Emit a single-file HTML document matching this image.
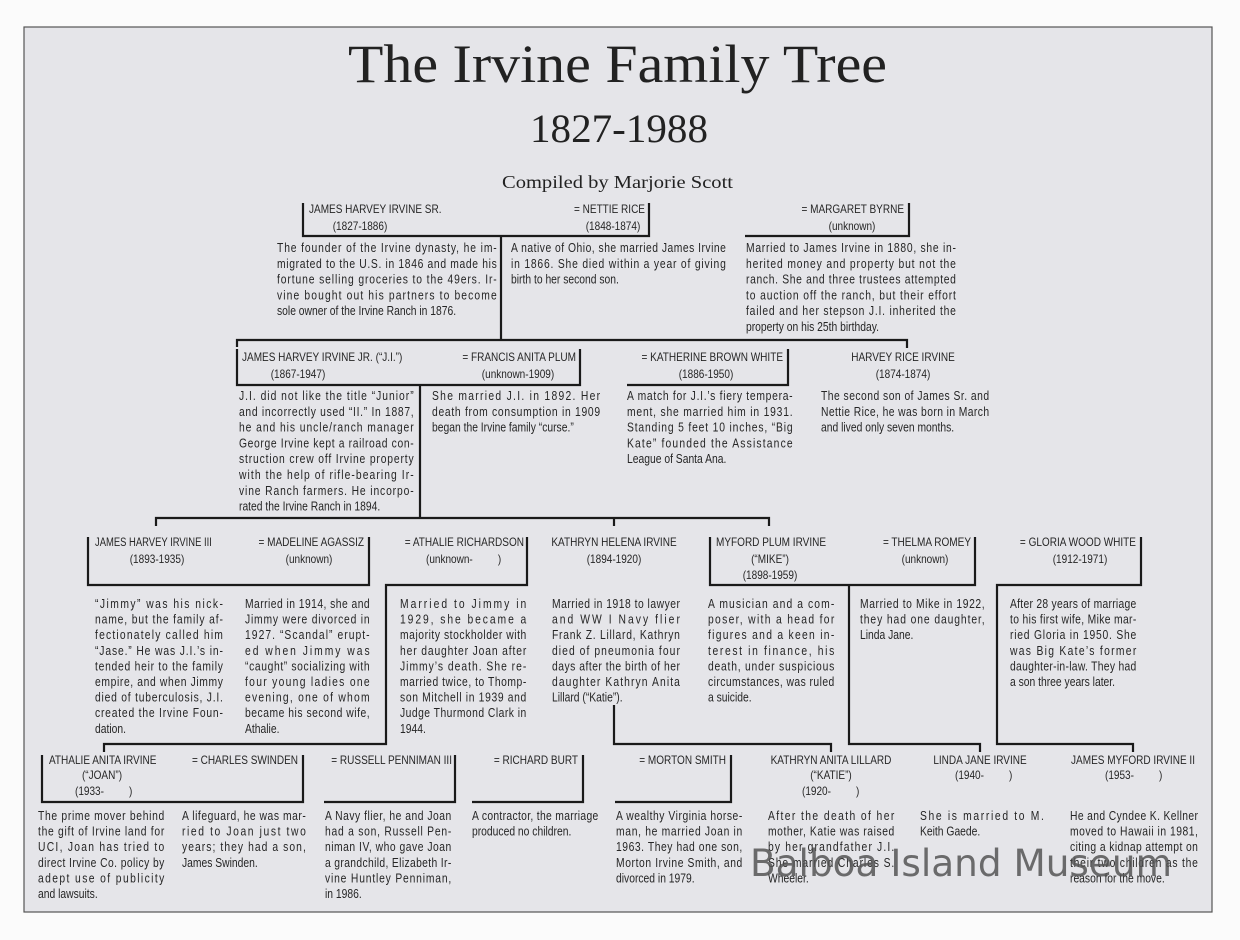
<!DOCTYPE html>
<html><head><meta charset="utf-8"><style>
html,body{margin:0;padding:0;background:#fbfbfb;}
svg{display:block;}
.b{font-family:"Liberation Sans",Arial,sans-serif;font-size:12.6px;fill:#262626;}
.h{font-family:"Liberation Sans",Arial,sans-serif;font-size:11.8px;fill:#262626;}
.s{font-family:"Liberation Serif","Times New Roman",serif;fill:#222;}
</style></head><body>
<svg width="1240" height="940" viewBox="0 0 1240 940" xmlns="http://www.w3.org/2000/svg">
<rect x="0" y="0" width="1240" height="940" fill="#fbfbfb"/>
<rect x="24" y="27" width="1188" height="885" fill="#e5e5e9" stroke="#555" stroke-width="1.2"/>

<text class="s" x="348" y="82" font-size="54" textLength="539" lengthAdjust="spacingAndGlyphs">The Irvine Family Tree</text>
<text class="s" x="530" y="142" font-size="40" textLength="178" lengthAdjust="spacingAndGlyphs">1827-1988</text>
<text class="s" x="502" y="188" font-size="18" textLength="231" lengthAdjust="spacingAndGlyphs">Compiled by Marjorie Scott</text>

<g stroke="#1a1a1a" stroke-width="2.2" fill="none">
<polyline points="303,203 303,236 649,236 649,203"/>
<polyline points="745,236 909,236 909,203"/>
<line x1="501" y1="236" x2="501" y2="340"/>
<polyline points="237,347 237,340 907,340 907,348"/>
<polyline points="237,349 237,385 580,385 580,349"/>
<polyline points="627,385 788,385 788,349"/>
<line x1="420" y1="385" x2="420" y2="518"/>
<polyline points="156,526 156,518 769,518 769,526"/>
<line x1="614" y1="518" x2="614" y2="526"/>
<polyline points="88,537 88,585 369,585 369,537"/>
<polyline points="527,537 527,585 386,585 386,744 104,744 104,752"/>
<polyline points="614,705 614,744 831,744 831,752"/>
<polyline points="710,537 710,585 975,585 975,537"/>
<polyline points="849,585 849,744 980,744 980,752"/>
<polyline points="1141,537 1141,585 997,585 997,744 1133,744 1133,752"/>
<polyline points="42,755 42,802 303,802 303,755"/>
<polyline points="324,802 455,802 455,755"/>
<polyline points="472,802 583,802 583,755"/>
<polyline points="615,802 731,802 731,755"/>
</g>

<g class="h">
<text transform="translate(309,213) scale(.85,1)">JAMES HARVEY IRVINE SR.</text>
<text transform="translate(360,230) scale(.85,1)" text-anchor="middle">(1827-1886)</text>
<text transform="translate(645,213) scale(.85,1)" text-anchor="end">= NETTIE RICE</text>
<text transform="translate(613,230) scale(.85,1)" text-anchor="middle">(1848-1874)</text>
<text transform="translate(904,213) scale(.85,1)" text-anchor="end">= MARGARET BYRNE</text>
<text transform="translate(852,230) scale(.85,1)" text-anchor="middle">(unknown)</text>

<text transform="translate(242,361) scale(.85,1)">JAMES HARVEY IRVINE JR. (“J.I.”)</text>
<text transform="translate(298,378) scale(.85,1)" text-anchor="middle">(1867-1947)</text>
<text transform="translate(576,361) scale(.85,1)" text-anchor="end">= FRANCIS ANITA PLUM</text>
<text transform="translate(518,378) scale(.85,1)" text-anchor="middle">(unknown-1909)</text>
<text transform="translate(783,361) scale(.85,1)" text-anchor="end">= KATHERINE BROWN WHITE</text>
<text transform="translate(706,378) scale(.85,1)" text-anchor="middle">(1886-1950)</text>
<text transform="translate(903,361) scale(.85,1)" text-anchor="middle">HARVEY RICE IRVINE</text>
<text transform="translate(903,378) scale(.85,1)" text-anchor="middle">(1874-1874)</text>

<text transform="translate(95,546) scale(.8,1)">JAMES HARVEY IRVINE III</text>
<text transform="translate(157,563) scale(.85,1)" text-anchor="middle">(1893-1935)</text>
<text transform="translate(364,546) scale(.85,1)" text-anchor="end">= MADELINE AGASSIZ</text>
<text transform="translate(309,563) scale(.85,1)" text-anchor="middle">(unknown)</text>
<text transform="translate(524,546) scale(.85,1)" text-anchor="end">= ATHALIE RICHARDSON</text>
<text transform="translate(426,563) scale(.85,1)">(unknown-&#160;&#160;&#160;&#160;&#160;&#160;&#160;&#160;&#160;)</text>
<text transform="translate(614,546) scale(.85,1)" text-anchor="middle">KATHRYN HELENA IRVINE</text>
<text transform="translate(614,563) scale(.85,1)" text-anchor="middle">(1894-1920)</text>
<text transform="translate(716,546) scale(.85,1)">MYFORD PLUM IRVINE</text>
<text transform="translate(770,563) scale(.85,1)" text-anchor="middle">(“MIKE”)</text>
<text transform="translate(770,579) scale(.85,1)" text-anchor="middle">(1898-1959)</text>
<text transform="translate(971,546) scale(.85,1)" text-anchor="end">= THELMA ROMEY</text>
<text transform="translate(925,563) scale(.85,1)" text-anchor="middle">(unknown)</text>
<text transform="translate(1136,546) scale(.85,1)" text-anchor="end">= GLORIA WOOD WHITE</text>
<text transform="translate(1080,563) scale(.85,1)" text-anchor="middle">(1912-1971)</text>

<text transform="translate(49,764) scale(.85,1)">ATHALIE ANITA IRVINE</text>
<text transform="translate(102,779) scale(.85,1)" text-anchor="middle">(“JOAN”)</text>
<text transform="translate(75,795) scale(.85,1)">(1933-&#160;&#160;&#160;&#160;&#160;&#160;&#160;&#160;&#160;)</text>
<text transform="translate(298,764) scale(.85,1)" text-anchor="end">= CHARLES SWINDEN</text>
<text transform="translate(452,764) scale(.85,1)" text-anchor="end">= RUSSELL PENNIMAN III</text>
<text transform="translate(578,764) scale(.85,1)" text-anchor="end">= RICHARD BURT</text>
<text transform="translate(726,764) scale(.85,1)" text-anchor="end">= MORTON SMITH</text>
<text transform="translate(831,764) scale(.85,1)" text-anchor="middle">KATHRYN ANITA LILLARD</text>
<text transform="translate(831,779) scale(.85,1)" text-anchor="middle">(“KATIE”)</text>
<text transform="translate(802,795) scale(.85,1)">(1920-&#160;&#160;&#160;&#160;&#160;&#160;&#160;&#160;&#160;)</text>
<text transform="translate(980,764) scale(.85,1)" text-anchor="middle">LINDA JANE IRVINE</text>
<text transform="translate(955,779) scale(.85,1)">(1940-&#160;&#160;&#160;&#160;&#160;&#160;&#160;&#160;&#160;)</text>
<text transform="translate(1133,764) scale(.85,1)" text-anchor="middle">JAMES MYFORD IRVINE II</text>
<text transform="translate(1105,779) scale(.85,1)">(1953-&#160;&#160;&#160;&#160;&#160;&#160;&#160;&#160;&#160;)</text>
</g>

<g class="b">
<g transform="translate(277,252) scale(.82,1)">
<text y="0" textLength="268" lengthAdjust="spacing">The founder of the Irvine dynasty, he im-</text>
<text y="15.8" textLength="268" lengthAdjust="spacing">migrated to the U.S. in 1846 and made his</text>
<text y="31.6" textLength="268" lengthAdjust="spacing">fortune selling groceries to the 49ers. Ir-</text>
<text y="47.4" textLength="268" lengthAdjust="spacing">vine bought out his partners to become</text>
<text y="63.2">sole owner of the Irvine Ranch in 1876.</text>
</g>
<g transform="translate(511,252) scale(.82,1)">
<text y="0" textLength="262" lengthAdjust="spacing">A native of Ohio, she married James Irvine</text>
<text y="15.8" textLength="262" lengthAdjust="spacing">in 1866. She died within a year of giving</text>
<text y="31.6">birth to her second son.</text>
</g>
<g transform="translate(746,252) scale(.82,1)">
<text y="0" textLength="256" lengthAdjust="spacing">Married to James Irvine in 1880, she in-</text>
<text y="15.8" textLength="256" lengthAdjust="spacing">herited money and property but not the</text>
<text y="31.6" textLength="256" lengthAdjust="spacing">ranch. She and three trustees attempted</text>
<text y="47.4" textLength="256" lengthAdjust="spacing">to auction off the ranch, but their effort</text>
<text y="63.2" textLength="256" lengthAdjust="spacing">failed and her stepson J.I. inherited the</text>
<text y="79">property on his 25th birthday.</text>
</g>

<g transform="translate(239,400) scale(.82,1)">
<text y="0" textLength="213" lengthAdjust="spacing">J.I. did not like the title “Junior”</text>
<text y="15.8" textLength="213" lengthAdjust="spacing">and incorrectly used “II.” In 1887,</text>
<text y="31.6" textLength="213" lengthAdjust="spacing">he and his uncle/ranch manager</text>
<text y="47.4" textLength="213" lengthAdjust="spacing">George Irvine kept a railroad con-</text>
<text y="63.2" textLength="213" lengthAdjust="spacing">struction crew off Irvine property</text>
<text y="79" textLength="213" lengthAdjust="spacing">with the help of rifle-bearing Ir-</text>
<text y="94.8" textLength="213" lengthAdjust="spacing">vine Ranch farmers. He incorpo-</text>
<text y="110.6">rated the Irvine Ranch in 1894.</text>
</g>
<g transform="translate(432,400) scale(.82,1)">
<text y="0" textLength="205" lengthAdjust="spacing">She married J.I. in 1892. Her</text>
<text y="15.8" textLength="205" lengthAdjust="spacing">death from consumption in 1909</text>
<text y="31.6">began the Irvine family “curse.”</text>
</g>
<g transform="translate(627,400) scale(.82,1)">
<text y="0" textLength="202" lengthAdjust="spacing">A match for J.I.’s fiery tempera-</text>
<text y="15.8" textLength="202" lengthAdjust="spacing">ment, she married him in 1931.</text>
<text y="31.6" textLength="202" lengthAdjust="spacing">Standing 5 feet 10 inches, “Big</text>
<text y="47.4" textLength="202" lengthAdjust="spacing">Kate” founded the Assistance</text>
<text y="63.2">League of Santa Ana.</text>
</g>
<g transform="translate(821,400) scale(.82,1)">
<text y="0" textLength="205" lengthAdjust="spacing">The second son of James Sr. and</text>
<text y="15.8" textLength="205" lengthAdjust="spacing">Nettie Rice, he was born in March</text>
<text y="31.6">and lived only seven months.</text>
</g>

<g transform="translate(95,608) scale(.82,1)">
<text y="0" textLength="156" lengthAdjust="spacing">“Jimmy” was his nick-</text>
<text y="15.6" textLength="156" lengthAdjust="spacing">name, but the family af-</text>
<text y="31.2" textLength="156" lengthAdjust="spacing">fectionately called him</text>
<text y="46.8" textLength="156" lengthAdjust="spacing">“Jase.” He was J.I.’s in-</text>
<text y="62.4" textLength="156" lengthAdjust="spacing">tended heir to the family</text>
<text y="78" textLength="156" lengthAdjust="spacing">empire, and when Jimmy</text>
<text y="93.6" textLength="156" lengthAdjust="spacing">died of tuberculosis, J.I.</text>
<text y="109.2" textLength="156" lengthAdjust="spacing">created the Irvine Foun-</text>
<text y="124.8">dation.</text>
</g>
<g transform="translate(245,608) scale(.82,1)">
<text y="0" textLength="152" lengthAdjust="spacing">Married in 1914, she and</text>
<text y="15.6" textLength="152" lengthAdjust="spacing">Jimmy were divorced in</text>
<text y="31.2" textLength="152" lengthAdjust="spacing">1927. “Scandal” erupt-</text>
<text y="46.8" textLength="152" lengthAdjust="spacing">ed when Jimmy was</text>
<text y="62.4" textLength="152" lengthAdjust="spacing">“caught” socializing with</text>
<text y="78" textLength="152" lengthAdjust="spacing">four young ladies one</text>
<text y="93.6" textLength="152" lengthAdjust="spacing">evening, one of whom</text>
<text y="109.2" textLength="152" lengthAdjust="spacing">became his second wife,</text>
<text y="124.8">Athalie.</text>
</g>
<g transform="translate(400,608) scale(.82,1)">
<text y="0" textLength="154" lengthAdjust="spacing">Married to Jimmy in</text>
<text y="15.6" textLength="154" lengthAdjust="spacing">1929, she became a</text>
<text y="31.2" textLength="154" lengthAdjust="spacing">majority stockholder with</text>
<text y="46.8" textLength="154" lengthAdjust="spacing">her daughter Joan after</text>
<text y="62.4" textLength="154" lengthAdjust="spacing">Jimmy’s death. She re-</text>
<text y="78" textLength="154" lengthAdjust="spacing">married twice, to Thomp-</text>
<text y="93.6" textLength="154" lengthAdjust="spacing">son Mitchell in 1939 and</text>
<text y="109.2" textLength="154" lengthAdjust="spacing">Judge Thurmond Clark in</text>
<text y="124.8">1944.</text>
</g>
<g transform="translate(552,608) scale(.82,1)">
<text y="0" textLength="156" lengthAdjust="spacing">Married in 1918 to lawyer</text>
<text y="15.6" textLength="156" lengthAdjust="spacing">and WW I Navy flier</text>
<text y="31.2" textLength="156" lengthAdjust="spacing">Frank Z. Lillard, Kathryn</text>
<text y="46.8" textLength="156" lengthAdjust="spacing">died of pneumonia four</text>
<text y="62.4" textLength="156" lengthAdjust="spacing">days after the birth of her</text>
<text y="78" textLength="156" lengthAdjust="spacing">daughter Kathryn Anita</text>
<text y="93.6">Lillard (“Katie”).</text>
</g>
<g transform="translate(708,608) scale(.82,1)">
<text y="0" textLength="154" lengthAdjust="spacing">A musician and a com-</text>
<text y="15.6" textLength="154" lengthAdjust="spacing">poser, with a head for</text>
<text y="31.2" textLength="154" lengthAdjust="spacing">figures and a keen in-</text>
<text y="46.8" textLength="154" lengthAdjust="spacing">terest in finance, his</text>
<text y="62.4" textLength="154" lengthAdjust="spacing">death, under suspicious</text>
<text y="78" textLength="154" lengthAdjust="spacing">circumstances, was ruled</text>
<text y="93.6">a suicide.</text>
</g>
<g transform="translate(860,608) scale(.82,1)">
<text y="0" textLength="152" lengthAdjust="spacing">Married to Mike in 1922,</text>
<text y="15.6" textLength="152" lengthAdjust="spacing">they had one daughter,</text>
<text y="31.2">Linda Jane.</text>
</g>
<g transform="translate(1010,608) scale(.82,1)">
<text y="0" textLength="154" lengthAdjust="spacing">After 28 years of marriage</text>
<text y="15.6" textLength="154" lengthAdjust="spacing">to his first wife, Mike mar-</text>
<text y="31.2" textLength="154" lengthAdjust="spacing">ried Gloria in 1950. She</text>
<text y="46.8" textLength="154" lengthAdjust="spacing">was Big Kate’s former</text>
<text y="62.4" textLength="154" lengthAdjust="spacing">daughter-in-law. They had</text>
<text y="78">a son three years later.</text>
</g>

<g transform="translate(38,820) scale(.82,1)">
<text y="0" textLength="154" lengthAdjust="spacing">The prime mover behind</text>
<text y="15.6" textLength="154" lengthAdjust="spacing">the gift of Irvine land for</text>
<text y="31.2" textLength="154" lengthAdjust="spacing">UCI, Joan has tried to</text>
<text y="46.8" textLength="154" lengthAdjust="spacing">direct Irvine Co. policy by</text>
<text y="62.4" textLength="154" lengthAdjust="spacing">adept use of publicity</text>
<text y="78">and lawsuits.</text>
</g>
<g transform="translate(182,820) scale(.82,1)">
<text y="0" textLength="151" lengthAdjust="spacing">A lifeguard, he was mar-</text>
<text y="15.6" textLength="151" lengthAdjust="spacing">ried to Joan just two</text>
<text y="31.2" textLength="151" lengthAdjust="spacing">years; they had a son,</text>
<text y="46.8">James Swinden.</text>
</g>
<g transform="translate(325,820) scale(.82,1)">
<text y="0" textLength="154" lengthAdjust="spacing">A Navy flier, he and Joan</text>
<text y="15.6" textLength="154" lengthAdjust="spacing">had a son, Russell Pen-</text>
<text y="31.2" textLength="154" lengthAdjust="spacing">niman IV, who gave Joan</text>
<text y="46.8" textLength="154" lengthAdjust="spacing">a grandchild, Elizabeth Ir-</text>
<text y="62.4" textLength="154" lengthAdjust="spacing">vine Huntley Penniman,</text>
<text y="78">in 1986.</text>
</g>
<g transform="translate(472,820) scale(.82,1)">
<text y="0" textLength="154" lengthAdjust="spacing">A contractor, the marriage</text>
<text y="15.6">produced no children.</text>
</g>
<g transform="translate(616,820) scale(.82,1)">
<text y="0" textLength="154" lengthAdjust="spacing">A wealthy Virginia horse-</text>
<text y="15.6" textLength="154" lengthAdjust="spacing">man, he married Joan in</text>
<text y="31.2" textLength="154" lengthAdjust="spacing">1963. They had one son,</text>
<text y="46.8" textLength="154" lengthAdjust="spacing">Morton Irvine Smith, and</text>
<text y="62.4">divorced in 1979.</text>
</g>
<g transform="translate(768,820) scale(.82,1)">
<text y="0" textLength="154" lengthAdjust="spacing">After the death of her</text>
<text y="15.6" textLength="154" lengthAdjust="spacing">mother, Katie was raised</text>
<text y="31.2" textLength="154" lengthAdjust="spacing">by her grandfather J.I.</text>
<text y="46.8" textLength="154" lengthAdjust="spacing">She married Charles S.</text>
<text y="62.4">Wheeler.</text>
</g>
<g transform="translate(920,820) scale(.82,1)">
<text y="0" textLength="151" lengthAdjust="spacing">She is married to M.</text>
<text y="15.6">Keith Gaede.</text>
</g>
<g transform="translate(1070,820) scale(.82,1)">
<text y="0" textLength="156" lengthAdjust="spacing">He and Cyndee K. Kellner</text>
<text y="15.6" textLength="156" lengthAdjust="spacing">moved to Hawaii in 1981,</text>
<text y="31.2" textLength="156" lengthAdjust="spacing">citing a kidnap attempt on</text>
<text y="46.8" textLength="156" lengthAdjust="spacing">their two children as the</text>
<text y="62.4">reason for the move.</text>
</g>
</g>

<text x="750" y="876" font-family="'DejaVu Sans',sans-serif" font-size="37" fill="#555" fill-opacity="0.85" textLength="422" lengthAdjust="spacingAndGlyphs">Balboa Island Museum</text>
</svg>
</body></html>
